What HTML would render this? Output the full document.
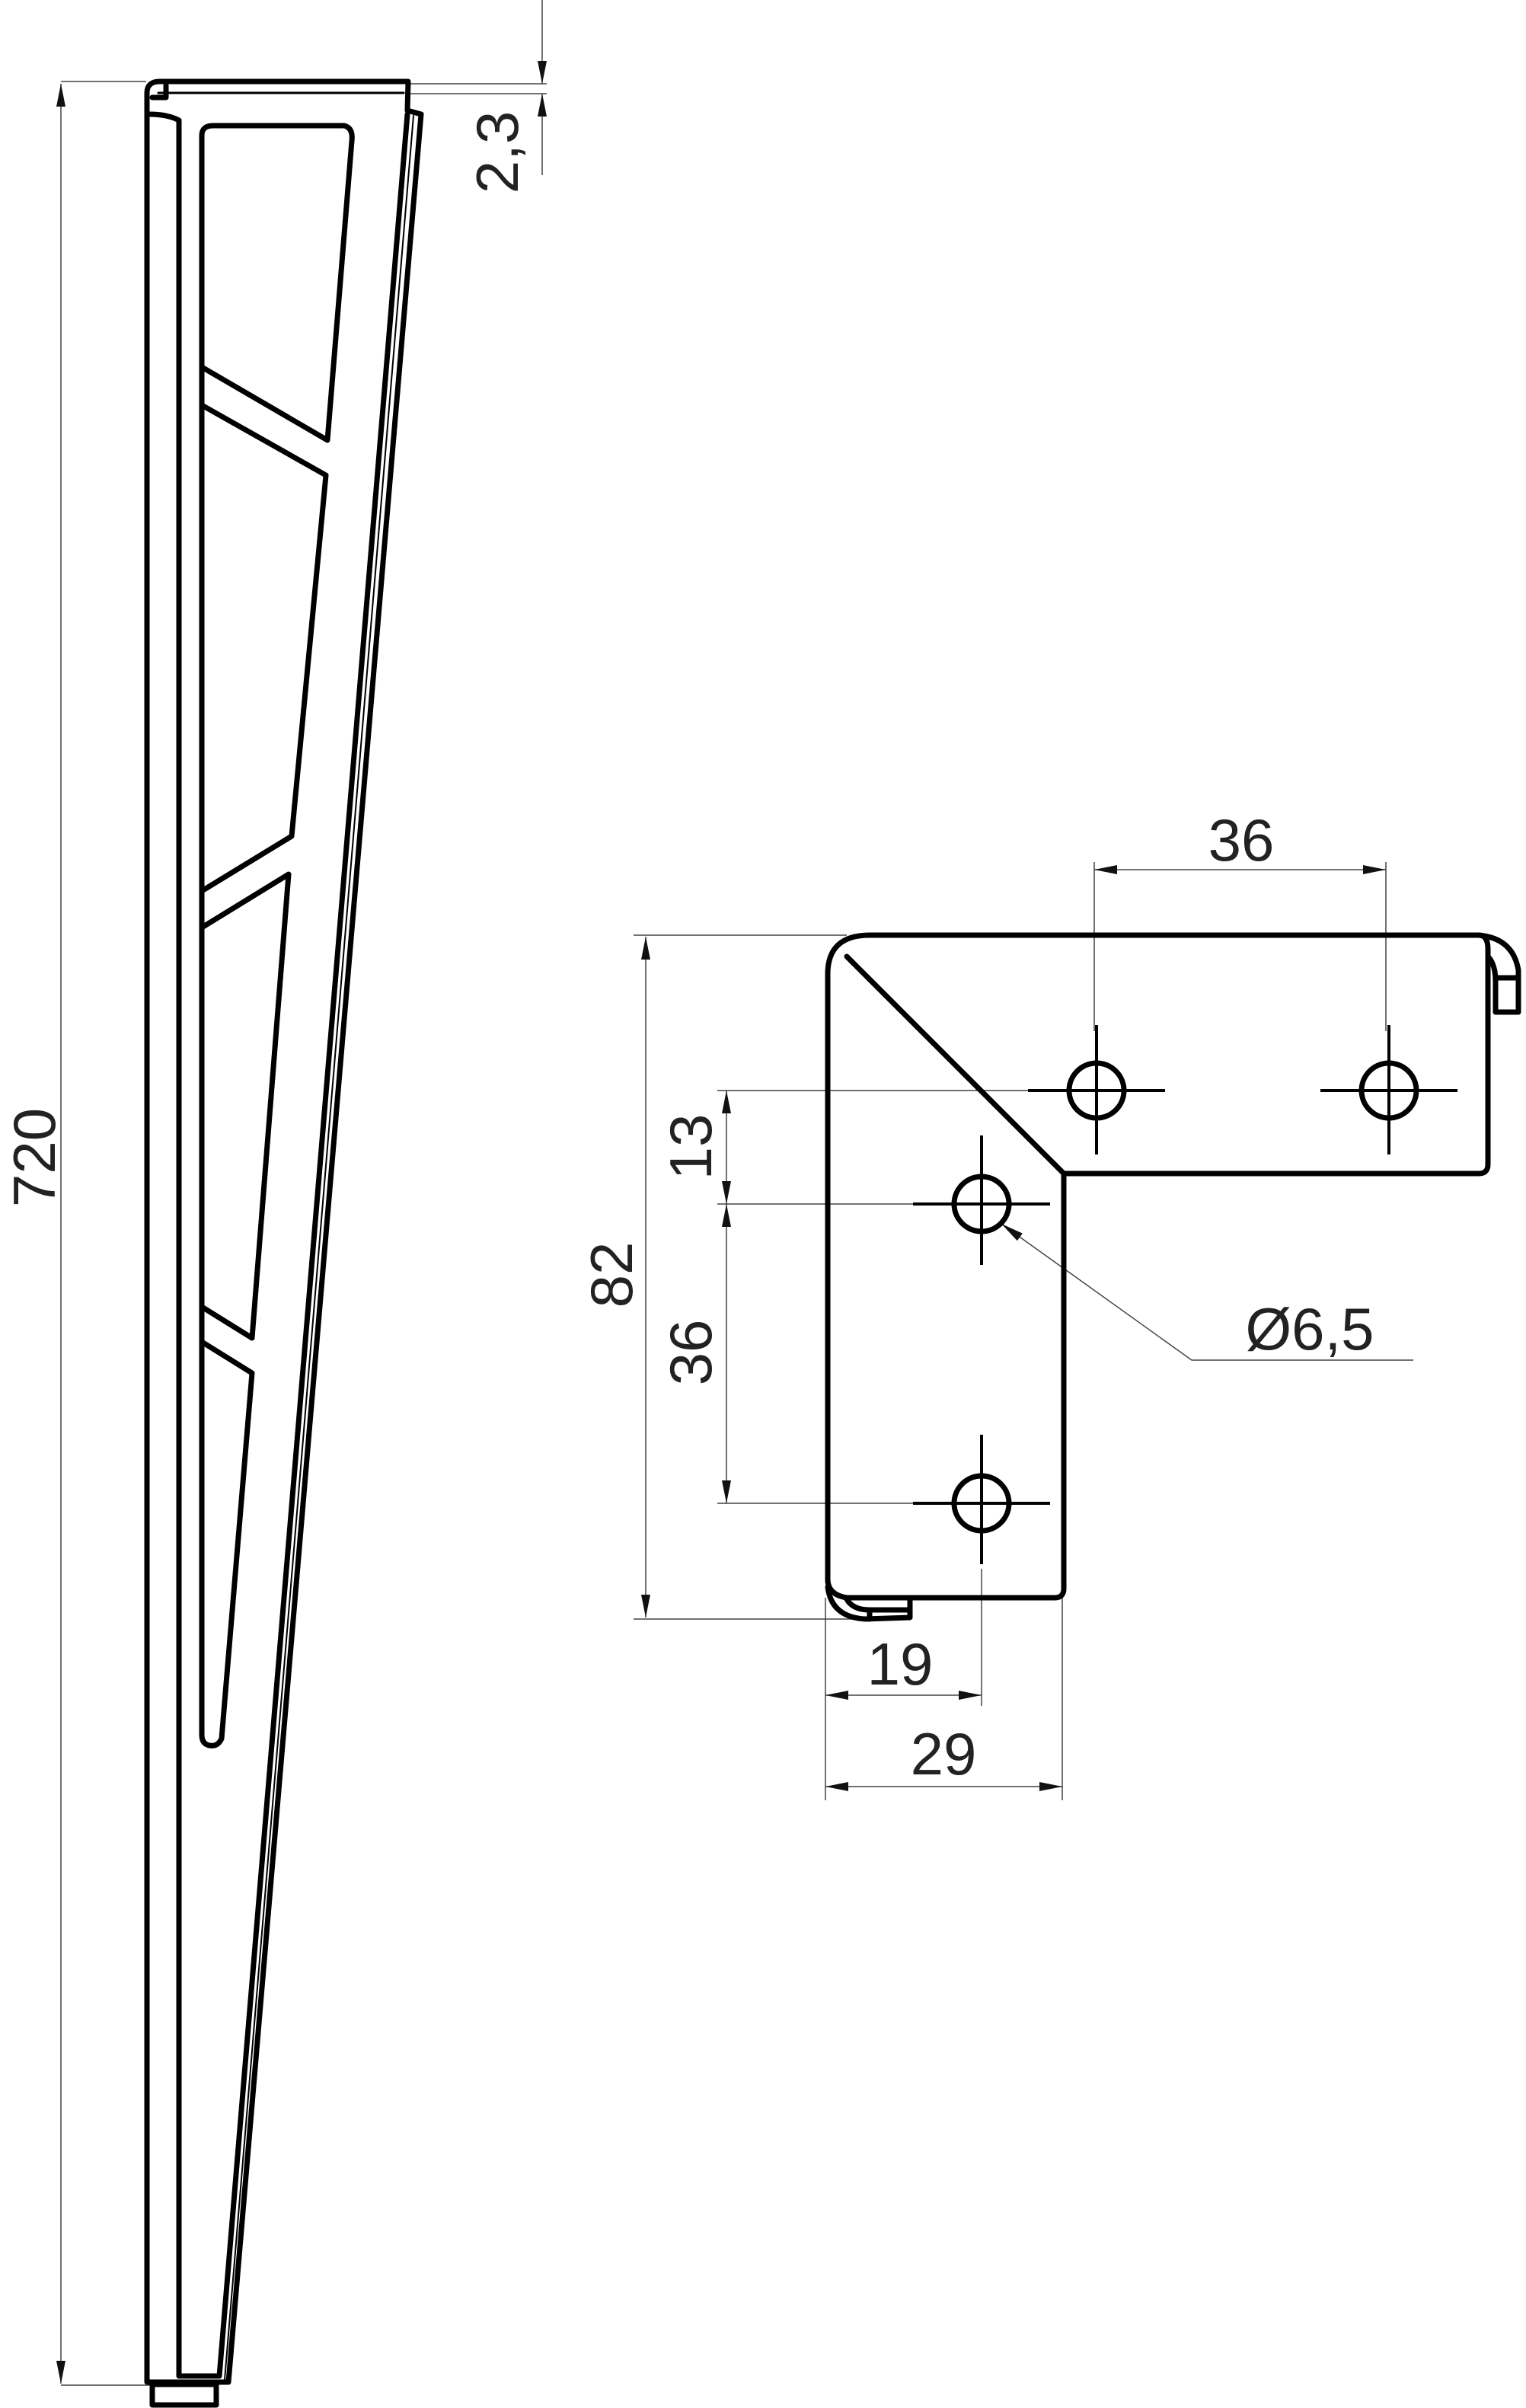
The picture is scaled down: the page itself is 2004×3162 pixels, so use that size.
<!DOCTYPE html>
<html><head><meta charset="utf-8"><style>
html,body{margin:0;padding:0;background:#fff}
svg{display:block}
text{font-family:"Liberation Sans","DejaVu Sans",sans-serif;fill:#222}
</style></head><body>
<svg width="2004" height="3162" viewBox="0 0 2004 3162" xmlns="http://www.w3.org/2000/svg">
<defs>
<marker id="a" viewBox="0 0 30 12" refX="30" refY="6" markerWidth="30" markerHeight="12" markerUnits="userSpaceOnUse" orient="auto-start-reverse"><path d="M0,0 L30,6 L0,12 Z" fill="#111"/></marker>
</defs>
<g stroke="#444" stroke-width="1.5" fill="none">
<line x1="80" y1="107" x2="192" y2="107"/>
<line x1="80" y1="3132" x2="200" y2="3132"/>
<line x1="80" y1="110" x2="80" y2="3130" marker-start="url(#a)" marker-end="url(#a)"/>
<line x1="538" y1="110" x2="718" y2="110"/>
<line x1="538" y1="123" x2="718" y2="123"/>
<line x1="712" y1="0" x2="712" y2="110" marker-end="url(#a)"/>
<line x1="712" y1="230" x2="712" y2="123" marker-end="url(#a)"/>
</g>
<g font-size="78">
<text transform="translate(72,1520) rotate(-90)" text-anchor="middle">720</text>
<text transform="translate(680,200) rotate(-90)" text-anchor="middle">2,3</text>
</g>
<!-- leg -->
<g stroke="#000" stroke-width="7" fill="none" stroke-linejoin="round" stroke-linecap="round">
<path d="M193,3128 L193,122 Q193,107 210,107 L536,107 L535,145 L553,150 L300,3128 Z"/>
<path d="M196,150 Q220,150 235,158 L235,3120 L288,3120 L535,150"/>
<path d="M200,128 L218,128 L218,112"/>
<line x1="208" y1="122" x2="530" y2="122" stroke-width="3"/>
<line x1="543" y1="152" x2="295" y2="3125" stroke-width="2"/>
<rect x="200" y="3131" width="84" height="27"/>
<path d="M265,482 L265,178 Q265,165 280,165 L452,165 Q464,168 462,185 L430,578 Z" />
<path d="M265,532 L428,624 L383,1098 L265,1170"/>
<path d="M265,1218 L379,1148 L331,1757 L265,1716"/>
<path d="M265,1762 L331,1803 L291,2283 Q286,2294 275,2292 Q265,2290 265,2278 L265,482"/>
</g>
<g transform="translate(2,14)">
<g stroke="#444" stroke-width="1.5" fill="none">
<line x1="1435" y1="1118" x2="1435" y2="1340"/>
<line x1="1818" y1="1118" x2="1818" y2="1340"/>
<line x1="1435" y1="1128" x2="1818" y2="1128" marker-start="url(#a)" marker-end="url(#a)"/>
<line x1="830" y1="1214" x2="1110" y2="1214"/>
<line x1="830" y1="2112" x2="1120" y2="2112"/>
<line x1="846" y1="1216" x2="846" y2="2110" marker-start="url(#a)" marker-end="url(#a)"/>
<line x1="940" y1="1418" x2="1350" y2="1418"/>
<line x1="940" y1="1567" x2="1200" y2="1567"/>
<line x1="940" y1="1960" x2="1200" y2="1960"/>
<line x1="952" y1="1418" x2="952" y2="1567" marker-start="url(#a)" marker-end="url(#a)"/>
<line x1="952" y1="1567" x2="952" y2="1960" marker-start="url(#a)" marker-end="url(#a)"/>
<line x1="1082" y1="2084" x2="1082" y2="2350"/>
<line x1="1287" y1="2046" x2="1287" y2="2226"/>
<line x1="1393" y1="2084" x2="1393" y2="2350"/>
<line x1="1082" y1="2212" x2="1287" y2="2212" marker-start="url(#a)" marker-end="url(#a)"/>
<line x1="1082" y1="2332" x2="1393" y2="2332" marker-start="url(#a)" marker-end="url(#a)"/>
<polyline points="1854,1772 1563,1772 1313,1593" marker-end="url(#a)"/>
</g>
<g font-size="78">
<text x="1628" y="1116" text-anchor="middle">36</text>
<text transform="translate(828,1660) rotate(-90)" text-anchor="middle">82</text>
<text transform="translate(932,1492) rotate(-90)" text-anchor="middle">13</text>
<text transform="translate(932,1762) rotate(-90)" text-anchor="middle">36</text>
<text x="1180" y="2198" text-anchor="middle">19</text>
<text x="1237" y="2316" text-anchor="middle">29</text>
<text x="1718" y="1758" text-anchor="middle">Ø6,5</text>
</g>
<g stroke="#000" stroke-width="7" fill="none" stroke-linejoin="round" stroke-linecap="round">
<path d="M1085,2060 L1085,1265 Q1085,1214 1140,1214 L1940,1214 Q1952,1214 1952,1232 L1952,1515 Q1952,1527 1940,1527 L1395,1527 L1395,2072 Q1395,2084 1383,2084 L1110,2084 Q1085,2080 1085,2060"/>
<line x1="1110" y1="1242" x2="1395" y2="1527"/>
<path d="M1940,1214 Q1985,1218 1992,1260 L1992,1315 L1962,1315 L1962,1275 Q1962,1252 1952,1242"/>
<line x1="1962" y1="1270" x2="1992" y2="1270"/>
<path d="M1085,2070 Q1090,2110 1135,2112 L1193,2110 L1193,2084"/>
<path d="M1110,2086 Q1118,2100 1140,2100 L1193,2100"/>
<line x1="1140" y1="2100" x2="1140" y2="2112"/>
<circle cx="1438" cy="1418" r="36"/>
<circle cx="1822" cy="1418" r="36"/>
<circle cx="1287" cy="1567" r="36"/>
<circle cx="1287" cy="1960" r="36"/>
</g>
<g stroke="#000" stroke-width="4">
<line x1="1348" y1="1418" x2="1528" y2="1418"/><line x1="1438" y1="1332" x2="1438" y2="1502"/>
<line x1="1732" y1="1418" x2="1912" y2="1418"/><line x1="1822" y1="1332" x2="1822" y2="1502"/>
<line x1="1197" y1="1567" x2="1377" y2="1567"/><line x1="1287" y1="1477" x2="1287" y2="1647"/>
<line x1="1197" y1="1960" x2="1377" y2="1960"/><line x1="1287" y1="1870" x2="1287" y2="2040"/>
</g>
</g>
</svg>
</body></html>
